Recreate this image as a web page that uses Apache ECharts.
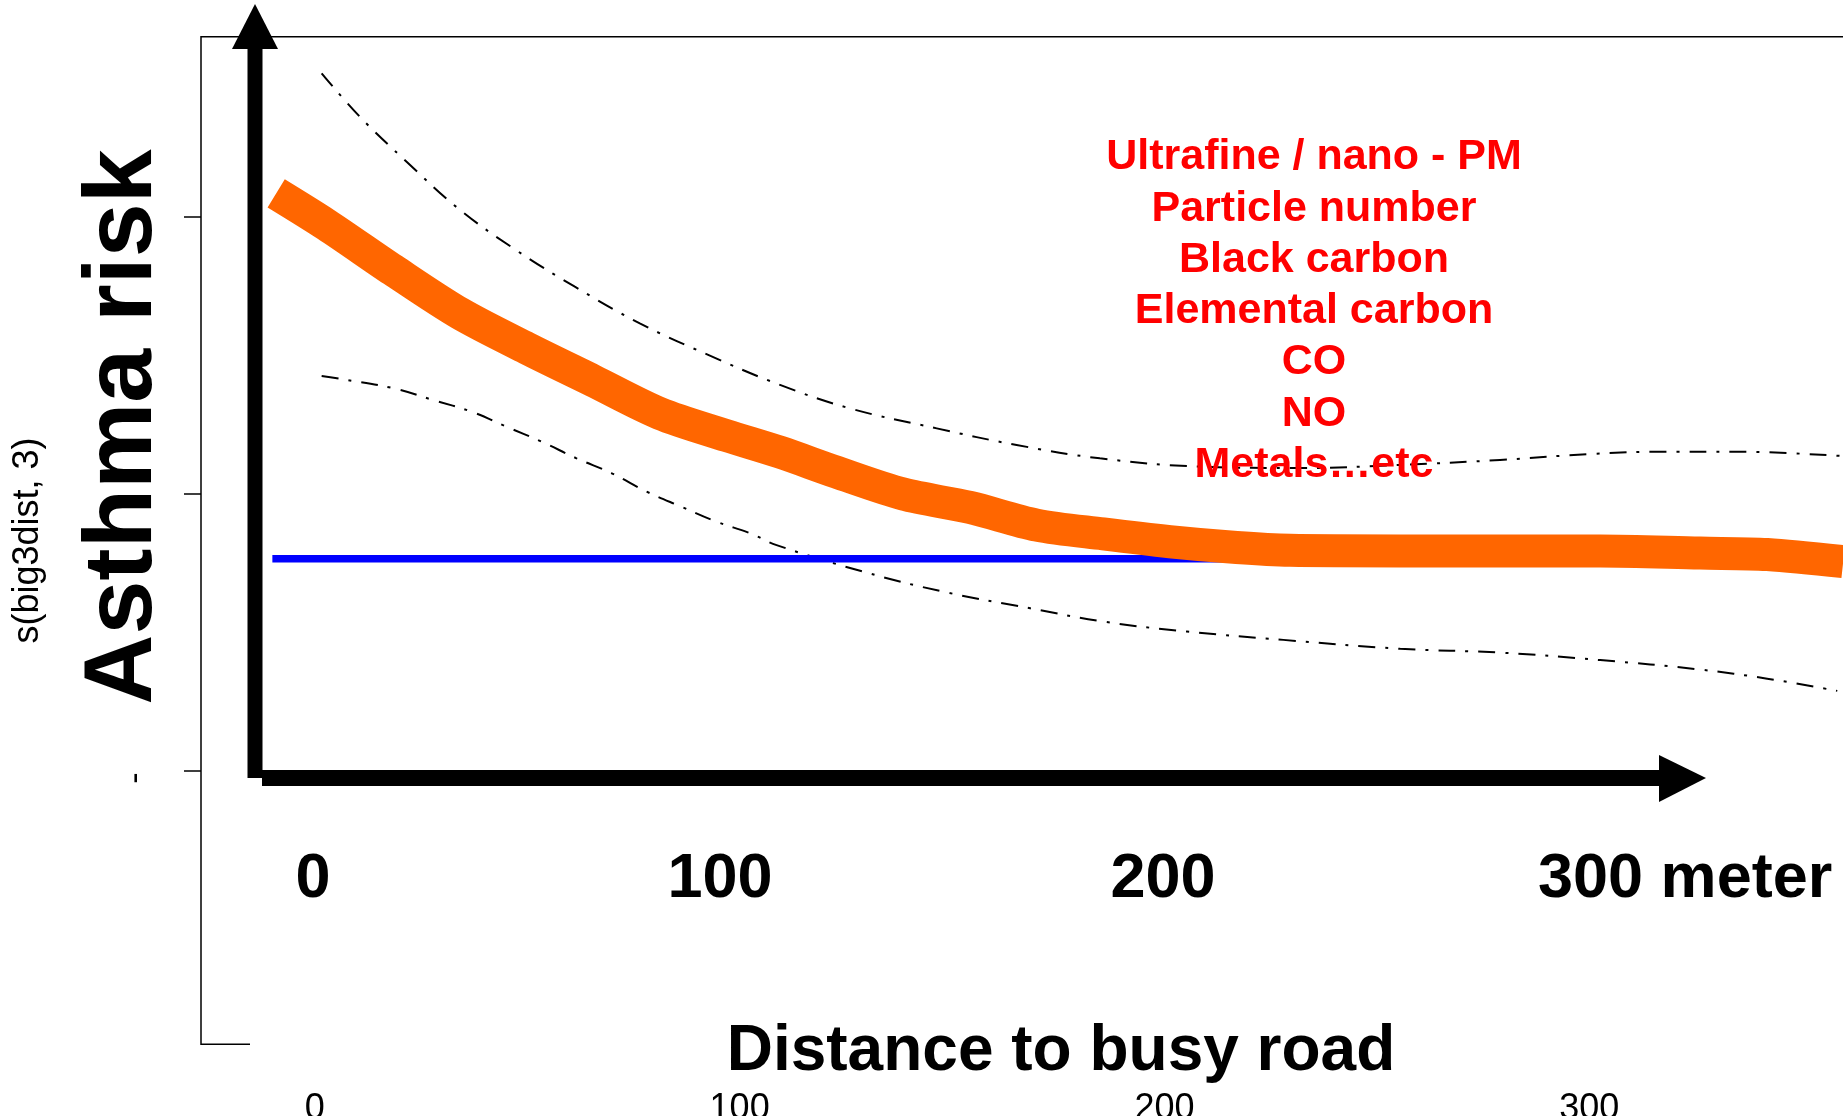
<!DOCTYPE html>
<html>
<head>
<meta charset="utf-8">
<script src="https://cdn.jsdelivr.net/npm/echarts@6/dist/echarts.min.js"></script>
<style>
html,body{margin:0;padding:0;background:#ffffff;}
#chart{width:1843px;height:1116px;}
</style>
</head>
<body>
<div id="chart"></div>
<script>
// ---- data ----
// smoothed asthma-risk curve (orange)
const riskDistance = [-9.1, 2.8, 18.4, 34.1, 49.9, 65.5, 81.2, 96.9, 109.5, 122.8, 138.5, 154.2, 169.9, 185.6, 201.3, 217.0, 229.6, 255.5, 302.6, 326.1, 341.9, 359.8];
const riskValue    = [1.084, 0.970, 0.807, 0.651, 0.525, 0.408, 0.290, 0.210, 0.150, 0.078, -0.001, -0.049, -0.113, -0.145, -0.173, -0.194, -0.204, -0.206, -0.206, -0.214, -0.219, -0.245];
// upper confidence band
const upperDistance = [1.6, 10.6, 21.6, 33.7, 46.7, 61.2, 76.5, 92.6, 109.5, 126.0, 146.4, 165.2, 184.8, 208.4, 231.9, 255.5, 279.0, 300.9, 318.3, 333.9, 359.8];
const upperValue    = [1.517, 1.360, 1.198, 1.030, 0.886, 0.747, 0.615, 0.501, 0.393, 0.308, 0.236, 0.176, 0.128, 0.098, 0.093, 0.104, 0.122, 0.144, 0.152, 0.152, 0.136];
// lower confidence band
const lowerDistance = [1.6, 6.7, 18.4, 27.9, 36.9, 45.1, 53.4, 61.6, 69.9, 78.1, 86.3, 94.6, 102.4, 108.7, 129.1, 147.9, 168.4, 185.6, 205.3, 228.0, 255.5, 279.0, 302.6, 326.1, 341.9, 358.4];
const lowerValue    = [0.425, 0.413, 0.381, 0.338, 0.296, 0.242, 0.188, 0.128, 0.074, 0.008, -0.047, -0.101, -0.142, -0.185, -0.281, -0.353, -0.413, -0.461, -0.497, -0.527, -0.559, -0.573, -0.600, -0.634, -0.667, -0.711];
// blue background level line
const refDistance = [-10, 229.6];
const refValue    = [-0.2345, -0.2345];
// axis ticks
const xTickValues = [0, 100, 200, 300];
const yTickValues = [-1, 0, 1];
const yVisibleLabelValues = [-1];
const yVisibleLabelText = ['-'];
// texts
const yAxisTitle = 's(big3dist, 3)';
const bigYTitle = 'Asthma risk';
const bigXTitle = 'Distance to busy road';
const distanceLabels = ['0', '100', '200', '300 meter'];
const pollutantLines = ['Ultrafine / nano - PM', 'Particle number', 'Black carbon', 'Elemental carbon', 'CO', 'NO', 'Metals\u2026etc'];

// ---- layout / style ----
const FONT = "'Liberation Sans', Arial, Helvetica, sans-serif";
const zip = (xs, ys) => xs.map((x, i) => [x, ys[i]]);

const chart = echarts.init(document.getElementById('chart'), null, {renderer: 'canvas'});

const distanceLabelPos = [[313, 'center'], [720, 'center'], [1163, 'center'], [1538, 'left']];

const graphics = [];
// white box behind the x title
graphics.push({type: 'rect', z: 50, shape: {x: 250, y: 1038, width: 1620, height: 52}, style: {fill: '#ffffff'}});
graphics.push({type: 'text', z: 51, x: 1061, y: 1052,
  style: {text: bigXTitle, font: 'bold 64px ' + FONT, fill: '#000000', align: 'center', verticalAlign: 'middle'}});
// big rotated y title
graphics.push({type: 'text', z: 51, x: 124, y: 427, rotation: Math.PI / 2,
  style: {text: bigYTitle, font: 'bold 97px ' + FONT, fill: '#000000', align: 'center', verticalAlign: 'middle'}});
// big distance labels
distanceLabels.forEach((t, i) => {
  graphics.push({type: 'text', z: 51, x: distanceLabelPos[i][0], y: 880,
    style: {text: t, font: 'bold 63px ' + FONT, fill: '#000000', align: distanceLabelPos[i][1], verticalAlign: 'middle'}});
});
// red pollutant list
pollutantLines.forEach((t, i) => {
  graphics.push({type: 'text', z: 60, x: 1314, y: 157.5 + i * 51.25,
    style: {text: t, font: 'bold 43px ' + FONT, fill: '#ff0000', align: 'center', verticalAlign: 'middle'}});
});
// vertical arrow
graphics.push({type: 'rect', z: 100, shape: {x: 247.5, y: 45, width: 15, height: 733}, style: {fill: '#000000'}});
graphics.push({type: 'polygon', z: 100, shape: {points: [[255, 4], [232, 49], [278, 49]]}, style: {fill: '#000000'}});
// horizontal arrow
graphics.push({type: 'rect', z: 100, shape: {x: 262, y: 770, width: 1401, height: 16}, style: {fill: '#000000'}});
graphics.push({type: 'polygon', z: 100, shape: {points: [[1706, 778], [1659, 755], [1659, 802]]}, style: {fill: '#000000'}});

const option = {
  animation: false,
  backgroundColor: '#ffffff',
  grid: {
    left: 201, top: 36.7, right: -10, bottom: 71.7,
    containLabel: false, outerBoundsMode: 'none',
    show: true, borderColor: '#000000', borderWidth: 1.5, backgroundColor: 'transparent'
  },
  xAxis: {
    type: 'value', min: -26.8, max: 362.1,
    axisLine: {show: false, onZero: false},
    axisTick: {show: false},
    splitLine: {show: false},
    axisLabel: {
      customValues: xTickValues,
      fontFamily: FONT, fontSize: 36, color: '#000000', margin: 47
    }
  },
  yAxis: {
    type: 'value', min: -1.986, max: 1.649,
    name: yAxisTitle, nameLocation: 'middle', nameRotate: 90, nameGap: 155,
    nameTextStyle: {fontFamily: FONT, fontSize: 36, color: '#000000'},
    axisLine: {show: false, onZero: false},
    splitLine: {show: false},
    axisTick: {show: true, customValues: yTickValues, length: 17, lineStyle: {color: '#000000', width: 1.5}},
    axisLabel: {
      customValues: yVisibleLabelValues,
      formatter: v => yVisibleLabelText[yVisibleLabelValues.indexOf(v)] || '',
      rotate: 90, margin: 48, padding: [0, 14, 0, 0],
      fontFamily: FONT, fontSize: 34, color: '#000000'
    }
  },
  series: [
    {type: 'line', name: 'upper', data: zip(upperDistance, upperValue), smooth: 0.4, symbol: 'none', z: 3,
     lineStyle: {color: '#000000', width: 2, type: [17, 10, 3, 10]}},
    {type: 'line', name: 'lower', data: zip(lowerDistance, lowerValue), smooth: 0.4, symbol: 'none', z: 3,
     lineStyle: {color: '#000000', width: 2, type: [17, 10, 3, 10]}},
    {type: 'line', name: 'reference', data: zip(refDistance, refValue), symbol: 'none', z: 4,
     lineStyle: {color: '#0000ff', width: 7.5, cap: 'butt'}},
    {type: 'line', name: 'risk', data: zip(riskDistance, riskValue), smooth: 0.3, symbol: 'none', z: 5,
     lineStyle: {color: '#ff6600', width: 33, cap: 'butt', join: 'round'}}
  ],
  graphic: {elements: graphics}
};
chart.setOption(option);
</script>
</body>
</html>
